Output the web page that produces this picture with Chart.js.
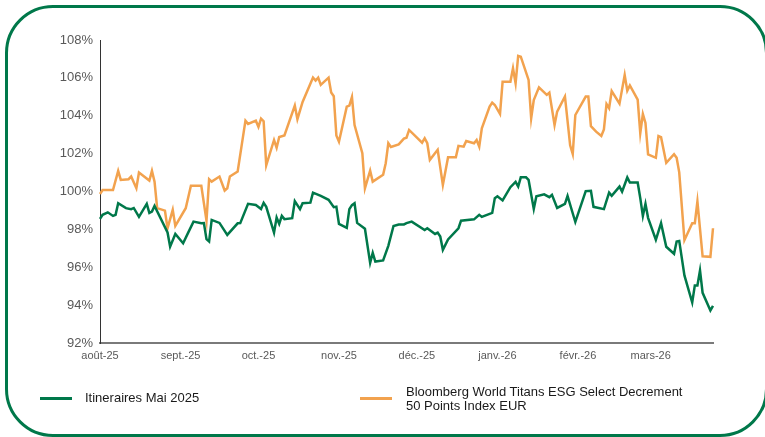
<!DOCTYPE html>
<html>
<head>
<meta charset="utf-8">
<script src="https://cdn.jsdelivr.net/npm/chart.js@4.4.1/dist/chart.umd.min.js"></script>
<style>
  html, body { margin: 0; padding: 0; background: #fff; }
  body { width: 765px; height: 437px; position: relative; overflow: hidden; font-family: 'Liberation Sans', Arial, sans-serif; }
  #frame { position: absolute; left: 5px; top: 5px; width: 763px; height: 432px; box-sizing: border-box;
           border: 3px solid #00784a; border-radius: 48px; }
  #wrap { position: absolute; left: 0; top: 0; width: 765px; height: 437px; }
  .leg { position: absolute; font-size: 13px; color: #1a1a1a; line-height: 14px; }
  .sw { position: absolute; height: 3px; width: 32px; }
</style>
</head>
<body>
<div id="frame"></div>
<div id="wrap"><canvas id="perfChart" width="765" height="437"></canvas></div>
<div class="sw" style="left:40px; top:397px; background:#00784a;"></div>
<div class="leg" style="left:85px; top:391px;">Itineraires Mai 2025</div>
<div class="sw" style="left:360px; top:397px; background:#f2a24e;"></div>
<div class="leg" style="left:406px; top:385px;">Bloomberg World Titans ESG Select Decrement<br>50 Points Index EUR</div>
<script>
// days counted from 1 Aug 2025
const monthDays = [0, 31, 61, 92, 122, 153, 184, 212];
const monthLabels = ['août-25', 'sept.-25', 'oct.-25', 'nov.-25', 'déc.-25', 'janv.-26', 'févr.-26', 'mars-26'];
const yTicks = [92, 94, 96, 98, 100, 102, 104, 106, 108];

const fundName = 'Itineraires Mai 2025';
const fundDays = [
  0, 1, 3, 5, 6, 7, 10, 12, 13, 15, 18, 19, 20, 21, 26, 27, 29,
  32, 34, 36, 39, 40, 41, 42, 43, 46, 49, 53, 54, 57, 60,
  62, 63, 64, 67, 68, 69, 70, 71, 74, 75, 77, 78, 81, 82, 85, 88, 90, 91,
  92, 95, 96, 97, 98, 99, 102, 104, 105, 106, 109, 111, 113, 115, 117, 118, 120,
  125, 126, 129, 130, 131, 132, 134, 138, 139, 144, 146, 147, 151, 152,
  153, 155, 158, 160, 161, 162, 164, 165, 167, 168, 171, 173, 174, 176, 179, 180, 183,
  187, 189, 190, 194, 196, 197, 200, 201, 203, 204, 207, 208, 209, 210, 211,
  214, 216, 218, 221, 222, 223, 225, 228, 229, 230, 231, 232, 235, 236
];
const fundValues = [
  98.55, 98.77, 98.90, 98.71, 98.77, 99.38, 99.12, 99.07, 99.13, 98.66, 99.35, 98.87, 98.94, 99.24, 97.84, 97.09, 97.76,
  97.27, 97.84, 98.41, 98.32, 98.33, 97.48, 97.36, 98.50, 98.34, 97.71, 98.32, 98.33, 99.35, 99.29,
  99.08, 99.40, 99.19, 97.83, 98.63, 98.29, 98.71, 98.54, 98.59, 99.49, 99.07, 99.38, 99.41, 99.94, 99.77, 99.56, 99.17, 99.20,
  98.29, 98.08, 99.07, 99.28, 99.38, 98.34, 98.03, 96.23, 96.76, 96.30, 96.36, 97.13, 98.18, 98.26, 98.26, 98.33, 98.41,
  97.97, 98.06, 97.76, 97.83, 97.62, 96.92, 97.47, 98.06, 98.46, 98.53, 98.77, 98.66, 98.87, 99.65,
  99.75, 99.53, 100.23, 100.51, 100.26, 100.75, 100.75, 100.61, 99.08, 99.75, 99.85, 99.70, 99.82, 99.13, 99.35, 99.77, 98.39,
  100.02, 100.04, 99.19, 99.07, 99.94, 99.77, 100.26, 99.99, 100.74, 100.47, 100.47, 99.65, 98.71, 99.35, 98.61,
  97.45, 98.33, 97.08, 96.71, 97.36, 97.39, 95.57, 94.14, 95.04, 95.04, 95.83, 94.65, 93.72, 93.96
];

const indexName = 'Bloomberg World Titans ESG Select Decrement 50 Points Index EUR';
const indexDays = [
  0, 1, 5, 7, 8, 11, 12, 14, 15, 19, 20, 21, 22, 25, 26, 28, 29,
  33, 35, 39, 41, 42, 43, 46, 48, 49, 50, 53, 56, 57, 60,
  61, 62, 63, 64, 67, 68, 69, 71, 75, 76, 78, 82, 83, 84, 85, 88, 89, 90, 91,
  92, 95, 96, 97, 98, 101, 102, 104, 105, 109, 110, 111, 112, 115, 117, 118, 119,
  124, 125, 126, 127, 130, 132, 134, 137, 138, 140, 141, 144, 145, 146, 147, 150, 151, 152,
  154, 155, 158, 159, 160, 161, 162, 165, 166, 167, 169, 172, 173, 175, 176, 179, 181, 182, 183,
  187, 188, 189, 191, 193, 194, 195, 196, 197, 200, 202, 203, 204, 207, 208, 209, 210, 211,
  214, 215, 216, 218, 221, 222, 223, 225, 228, 229, 230, 232, 235, 236
];
const indexValues = [
  99.87, 100.08, 100.08, 101.09, 100.61, 100.65, 100.79, 100.17, 101.00, 100.58, 101.09, 100.52, 99.12, 98.99, 98.06, 99.03, 98.18,
  99.12, 100.30, 100.30, 98.46, 100.65, 100.52, 100.79, 100.05, 100.17, 100.79, 101.06, 103.74, 103.57, 103.74,
  103.41, 103.85, 103.71, 101.38, 102.72, 102.31, 102.88, 102.96, 104.54, 103.82, 104.73, 106.02, 105.86, 106.01, 105.63, 106.01, 105.23, 105.03, 102.96,
  102.63, 104.48, 104.54, 104.99, 103.51, 102.02, 100.17, 101.10, 100.52, 100.88, 101.49, 102.55, 102.35, 102.49, 102.79, 102.84, 103.25,
  102.58, 102.81, 102.55, 101.67, 102.20, 100.35, 101.81, 101.81, 102.41, 102.37, 102.67, 102.55, 102.72, 102.37, 103.34, 104.48, 104.69, 104.57,
  104.10, 105.80, 105.80, 106.51, 105.71, 107.16, 107.12, 105.89, 103.87, 104.83, 105.50, 105.10, 105.22, 103.51, 104.22, 105.02, 102.44, 101.98, 104.04,
  105.01, 105.01, 103.45, 103.16, 102.93, 103.28, 104.62, 104.40, 105.30, 104.64, 106.15, 105.32, 105.60, 104.85, 103.08, 104.09, 103.62, 101.96,
  101.78, 102.93, 102.87, 101.51, 101.97, 101.78, 101.01, 97.43, 98.33, 98.33, 99.47, 96.58, 96.55, 98.06
];

function toPoints(days, values) {
  return days.map((d, i) => ({ x: d, y: values[i] }));
}

Chart.defaults.font.family = "'Liberation Sans', Arial, sans-serif";

const ctx = document.getElementById('perfChart').getContext('2d');
new Chart(ctx, {
  type: 'line',
  data: {
    datasets: [
      {
        label: fundName,
        data: toPoints(fundDays, fundValues),
        borderColor: '#00784a',
        borderWidth: 2.5,
        pointRadius: 0,
        tension: 0,
        fill: false,
        clip: false
      },
      {
        label: indexName,
        data: toPoints(indexDays, indexValues),
        borderColor: '#f2a24e',
        borderWidth: 2.5,
        pointRadius: 0,
        tension: 0,
        fill: false,
        clip: false
      }
    ]
  },
  options: {
    responsive: false,
    animation: false,
    layout: { padding: { left: 0, right: 52, top: 40, bottom: 0 } },
    scales: {
      x: {
        type: 'linear',
        min: 0,
        max: 236,
        afterFit(scale) { scale.height = 94; },
        afterBuildTicks(scale) { scale.ticks = monthDays.map(v => ({ value: v })); },
        grid: { display: false, drawTicks: false },
        border: { display: true, color: '#7a7a7a', width: 2 },
        ticks: {
          autoSkip: false,
          maxRotation: 0,
          padding: 6,
          color: '#595959',
          font: { size: 11 },
          callback: (v) => monthLabels[monthDays.indexOf(v)]
        }
      },
      y: {
        min: 92,
        max: 108,
        afterFit(scale) { scale.width = 100; },
        afterBuildTicks(scale) { scale.ticks = yTicks.map(v => ({ value: v })); },
        grid: { display: false, drawTicks: false },
        border: { display: true, color: '#333', width: 1 },
        ticks: {
          padding: 7,
          color: '#595959',
          font: { size: 13 },
          callback: (v) => v + '%'
        }
      }
    },
    plugins: {
      legend: { display: false },
      tooltip: { enabled: false }
    }
  }
});
</script>
</body>
</html>
